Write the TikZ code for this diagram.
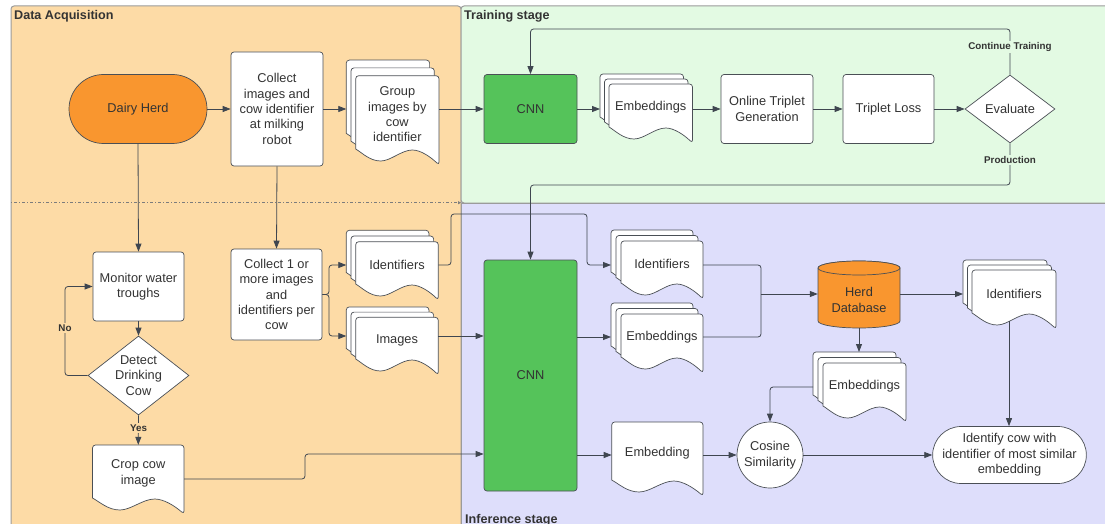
\documentclass[tikz,border=0pt]{standalone}
\usepackage{fontspec}
\setmainfont{Liberation Sans}
\usetikzlibrary{shapes.geometric,shapes.misc,arrows.meta}
\definecolor{daBg}{HTML}{FDDBA6}
\definecolor{trBg}{HTML}{E3FAE3}
\definecolor{infBg}{HTML}{DEDEFB}
\definecolor{orangeC}{HTML}{F9962F}
\definecolor{greenC}{HTML}{55C35A}
\definecolor{linec}{HTML}{3F4650}
\definecolor{edgec}{HTML}{4A4F55}
\definecolor{txtc}{HTML}{333333}
\definecolor{panelc}{HTML}{9B9B9B}
\tikzset{
  every node/.style={text=txtc, font=\fontsize{12.8}{15.4}\selectfont, align=center, inner sep=0pt},
  box/.style={draw=edgec, line width=0.7pt, fill=white, rounded corners=3pt},
  page/.style={draw=edgec, line width=0.7pt, fill=white},
  arr/.style={draw=linec, line width=0.8pt, rounded corners=3pt, -{Triangle[length=8pt,width=6pt]}},
  ln/.style={draw=linec, line width=0.8pt, rounded corners=3pt},
  lbl/.style={font=\fontsize{9.8}{11}\selectfont\bfseries, inner sep=1.5pt},
  ttl/.style={font=\fontsize{12.6}{14}\selectfont\bfseries, text=txtc, anchor=base west},
  panel/.style={draw=panelc, line width=1pt},
}
\newcommand\docpage[4]{%
  \pgfmathsetmacro\dcL{#1}\pgfmathsetmacro\dcT{#2}\pgfmathsetmacro\dcR{#3}\pgfmathsetmacro\dcB{#4}\pgfmathsetmacro\dcW{\dcR-\dcL}%
  \draw[page] (\dcR,\dcB) .. controls ({\dcR-0.1*\dcW},{\dcB-8}) and ({\dcL+0.78*\dcW},{\dcB-15}) .. ({\dcL+0.68*\dcW},{\dcB-15})
    .. controls ({\dcL+0.55*\dcW},{\dcB-15}) and ({\dcL+0.42*\dcW},{\dcB-4}) .. ({\dcL+0.3*\dcW},{\dcB-4})
    .. controls ({\dcL+0.17*\dcW},{\dcB-4}) and ({\dcL+0.08*\dcW},{\dcB-12}) .. (\dcL,{\dcB-16})
    [rounded corners=3pt] -- (\dcL,\dcT) -- (\dcR,\dcT) -- cycle;}
% multi document: name L T R B dx dy yconn text
\newcommand\mdoc[9]{%
  \docpage{#2-2*#6}{#3-2*#7}{#4-2*#6}{#5-2*#7}%
  \docpage{#2-#6}{#3-#7}{#4-#6}{#5-#7}%
  \docpage{#2}{#3}{#4}{#5}%
  \node[minimum width={#4-#2}, minimum height={#5-12-#3}] (#1) at ({(#2+#4)/2},{(#3+#5-12)/2}) {#9};
  \coordinate (#1-l) at ({#2-2*#6},{#8});
  \coordinate (#1-r) at ({#4},{#8});
  \coordinate (#1-t) at ({(#2+#4)/2-2*#6},{#3-2*#7});}
% single document: name L T R B yconn text
\newcommand\sdoc[7]{%
  \docpage{#2}{#3}{#4}{#5}%
  \node[minimum width={#4-#2}, minimum height={#5-12-#3}] (#1) at ({(#2+#4)/2},{(#3+#5-12)/2}) {#7};
  \coordinate (#1-l) at ({#2},{#6});
  \coordinate (#1-r) at ({#4},{#6});}
\begin{document}
\begin{tikzpicture}[x=1pt,y=-1pt]
\useasboundingbox (0,0) rectangle (1105,524);
% panels
\fill[white] (0,0) rectangle (1105,524);
\draw[panel, fill=daBg, rounded corners=3pt] (11,6) rectangle (461,540);
\draw[panel, fill=trBg, rounded corners=3pt] (461,6) rectangle (1115,203);
\draw[panel, fill=infBg] (461,203) rectangle (1115,540);
\node[ttl] (tDA) at (14,20) {Data Acquisition};
\node[ttl] (tTR) at (464,20) {Training stage};
\node[ttl] (tIN) at (465,523) {Inference stage};
\coordinate (dotA) at (11,202.7);
\coordinate (dotB) at (461,202.7);
\draw[panelc!80!black, line width=0.6pt, dash pattern=on 1pt off 2pt on 3pt off 2pt, -{Triangle[length=3pt,width=3pt]}] (dotA) -- (dotB);

% ---- nodes: data acquisition
\node[rounded rectangle, draw=edgec, line width=0.7pt, fill=orangeC, minimum width=138, minimum height=69] (dairy) at (138,109) {Dairy Herd};
\node[box, minimum width=92, minimum height=114] (collect1) at (277,109) {Collect\\images and\\cow identifier\\at milking\\robot};
\mdoc{grp}{355.7}{75.7}{439}{165}{4.7}{7.8}{109}{Group\\images by\\cow\\identifier}
\node[box, minimum width=91, minimum height=69] (monitor) at (138.5,286.5) {Monitor water\\troughs};
\node[diamond, draw=edgec, line width=0.7pt, fill=white, minimum width=101, minimum height=79] (detect) at (138.5,375.5) {};
\node (detectT) at (138.5,375.5) {Detect\\Drinking\\Cow};
\sdoc{crop}{92.5}{445}{184}{514}{479}{Crop cow\\image}
\node[box, minimum width=91, minimum height=91] (collect2) at (276.5,294.5) {Collect 1 or\\more images\\and\\identifiers per\\cow};
\mdoc{ids1}{355.7}{241.7}{438.3}{300}{4.7}{5.7}{265}{Identifiers}
\mdoc{imgs1}{355.7}{317.3}{438.3}{375}{4.7}{5.2}{336}{Images}

% ---- training
\node[box, fill=greenC, minimum width=93, minimum height=69] (cnn1) at (530.5,109) {CNN};
\mdoc{emb1}{609}{84}{692.5}{143}{4.5}{5}{109}{Embeddings}
\node[box, minimum width=92, minimum height=69] (otg) at (767,109) {Online Triplet\\Generation};
\node[box, minimum width=91, minimum height=69] (tl) at (888.5,109) {Triplet Loss};
\node[diamond, draw=edgec, line width=0.7pt, fill=white, minimum width=90, minimum height=68] (eval) at (1010,109) {};
\node (evalT) at (1010,109) {Evaluate};

% ---- inference
\node[box, fill=greenC, minimum width=93, minimum height=231] (cnn2) at (530.5,375.5) {CNN};
\mdoc{ids2}{621}{241}{703}{299}{5}{5.5}{265}{Identifiers}
\mdoc{embs2}{621}{314}{703}{373}{5}{5.5}{337}{Embeddings}
\sdoc{emb3}{611.7}{422}{703}{496}{455}{Embedding}
% cylinder
\draw[draw=edgec, line width=0.7pt, fill=orangeC] (818,268) -- (818,321) arc[start angle=180, end angle=0, x radius=41, y radius=7] -- (900,268) arc[start angle=360, end angle=180, x radius=41, y radius=7] -- cycle;
\draw[draw=edgec, line width=0.7pt, fill=orangeC] (859,268) ellipse [x radius=41, y radius=7];
\node[minimum width=82, minimum height=67] (db) at (859,294) {};
\node (dbT) at (859,300) {Herd\\Database};
\mdoc{ids3}{972}{270}{1056}{329}{4.5}{5}{294}{Identifiers}
\coordinate (ids3-b) at (1009,321);
\mdoc{embs3}{823}{363}{906}{422}{5}{5.5}{387}{Embeddings}
\node[circle, draw=edgec, line width=0.7pt, fill=white, minimum size=66] (cos) at (770,455) {Cosine\\Similarity};
\node[rounded rectangle, draw=edgec, line width=0.7pt, fill=white, minimum width=149, minimum height=57] (ident) at (1009.5,455) {Identify cow with\\identifier of most similar\\embedding};

% ---- helper coordinates
\coordinate (contY) at (0,29);
\coordinate (prodY) at (0,185);
\coordinate (noX) at (65,0);
\coordinate (br1) at (329,0);
\coordinate (jA) at (451,214);
\coordinate (jB) at (587,265);
\coordinate (jC) at (305,454);
\coordinate (jD) at (761,294);

% ---- connectors
\draw[arr] (dairy.east) -- (collect1.west);
\draw[arr] (collect1.east) -- (grp-l);
\draw[arr] (grp-r) -- (grp-r -| cnn1.west);
\draw[arr] (cnn1.east) -- (emb1-l);
\draw[arr] (emb1-r) -- (emb1-r -| otg.west);
\draw[arr] (otg.east) -- (tl.west);
\draw[arr] (tl.east) -- (eval.west);
\draw[arr] (eval.north) |- (contY -| cnn1.north) -- (cnn1.north);
\node[lbl, fill=trBg] (lblCT) at (1010,47) {Continue Training};
\draw[arr] (eval.south) |- (prodY -| cnn2.north) -- (cnn2.north);
\node[lbl, fill=trBg] (lblP) at (1010,160) {Production};

\draw[arr] (dairy.south) -- (monitor.north);
\draw[arr] (collect1.south) -- (collect2.north);
\draw[arr] (monitor.south) -- (detect.north);
\draw[arr] (detect.west) -| (noX |- monitor.west) -- (monitor.west);
\node[lbl, fill=daBg] (lblNo) at (65,328) {No};
\draw[arr] (detect.south) -- (crop.north);
\node[lbl, fill=daBg] (lblYes) at (138.5,428) {Yes};
\draw[arr] (collect2.east) -| (br1 |- ids1-l) -- (ids1-l);
\draw[arr] (collect2.east) -| (br1 |- imgs1-l) -- (imgs1-l);
\draw[arr] (ids1-r) -| (jA) -| (jB) -- (ids2-l);
\draw[arr] (imgs1-r) -- (imgs1-r -| cnn2.west);
\draw[arr] (crop-r) -| (jC) -- (jC -| cnn2.west);

\draw[arr] (cnn2.east |- embs2-l) -- (embs2-l);
\draw[arr] (cnn2.east |- emb3-l) -- (emb3-l);
\draw[arr] (emb3-r) -- (cos.west);
\draw[ln] (ids2-r) -| (jD);
\draw[ln] (embs2-r) -| (jD);
\draw[arr] (jD) -- (db.west);
\draw[arr] (db.east) -- (ids3-l);
\draw[arr] (db.south) -- (db.south |- embs3-t);
\draw[arr] (embs3-l) -| (cos.north);
\draw[arr] (cos.east) -- (ident.west);
\draw[arr] (ids3-b) -- (ids3-b |- ident.north);
\end{tikzpicture}
\end{document}
